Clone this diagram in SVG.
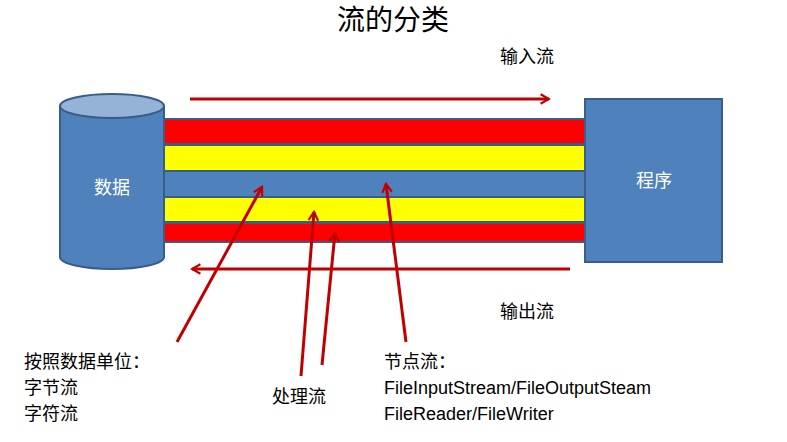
<svg xmlns="http://www.w3.org/2000/svg" width="787" height="442" viewBox="0 0 787 442">
<style>
text{font-family:"Liberation Sans","Noto Sans CJK SC",sans-serif;font-size:18px;fill:#000}
.w{fill:#fff}
.c{stroke:#c00000;stroke-width:3;fill:none}
.s{stroke:#385d8a;stroke-width:2}
</style>
<defs>
<marker id="a" viewBox="0 0 10 10" refX="8" refY="5" markerWidth="4" markerHeight="4" orient="auto" markerUnits="strokeWidth"><path d="M1,1 L8,5 L1,9" fill="none" stroke="#c00000" stroke-width="1.8"/></marker>
</defs>
<rect width="787" height="442" fill="#fff"/>
<text x="393" y="30" text-anchor="middle" style="font-size:28px">流的分类</text>
<g id="pipe">
<rect class="s" x="164" y="119" width="421" height="25" fill="#ff0000"/>
<rect class="s" x="164" y="145" width="421" height="26" fill="#ffff00"/>
<rect class="s" x="164" y="171" width="421" height="26" fill="#4f81bd"/>
<rect class="s" x="164" y="197" width="421" height="25" fill="#ffff00"/>
<rect class="s" x="164" y="223" width="421" height="19" fill="#ff0000"/>
</g>
<g id="data">
<path class="s" d="M60,106 V257 A52,12 0 0 0 164,257 V106" fill="#4f81bd"/>
<ellipse class="s" cx="112" cy="106" rx="52" ry="12" fill="#95b3d7"/>
<text class="w" x="112" y="194" text-anchor="middle">数据</text>
</g>
<g id="program">
<rect class="s" x="585" y="99" width="137" height="163" fill="#4f81bd"/>
<text class="w" x="654" y="187" text-anchor="middle">程序</text>
</g>
<g id="connectors">
<line class="c" x1="190" y1="99" x2="549" y2="99" marker-end="url(#a)"/>
<line class="c" x1="570" y1="269" x2="192" y2="269" marker-end="url(#a)"/>
<line class="c" x1="177" y1="342" x2="262" y2="187" marker-end="url(#a)"/>
<line class="c" x1="301" y1="376" x2="314" y2="212" marker-end="url(#a)"/>
<line class="c" x1="322" y1="365" x2="335" y2="233" marker-end="url(#a)"/>
<line class="c" x1="406" y1="342" x2="386" y2="184" marker-end="url(#a)"/>
</g>
<text x="500" y="63">输入流</text>
<text x="500" y="318">输出流</text>
<text x="24" y="368">按照数据单位：</text>
<text x="24" y="394">字节流</text>
<text x="24" y="420">字符流</text>
<text x="272" y="403">处理流</text>
<text x="384" y="368">节点流：</text>
<text x="384" y="394">FileInputStream/FileOutputSteam</text>
<text x="384" y="420">FileReader/FileWriter</text>
</svg>
